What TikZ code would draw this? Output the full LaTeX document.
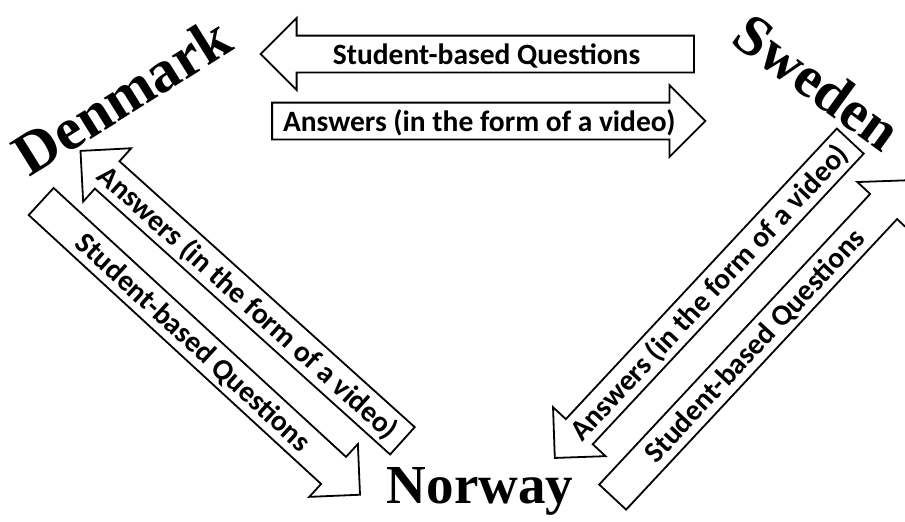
\documentclass[tikz,border=0pt]{standalone}
\usepackage{fontspec}
\newfontfamily\boxfont{Carlito}
\newfontfamily\landfont{Liberation Serif}
\usetikzlibrary{shapes.arrows}

\tikzset{
  flow/.style={single arrow, draw, line width=1.8pt, single arrow tip angle=90,
    single arrow head extend=17.5pt, inner xsep=10pt, inner ysep=0pt,
    text height=27.5pt, text depth=7.5pt,
    font=\boxfont\bfseries\fontsize{29.5}{30}\selectfont},
  backflow/.style={flow, shape border rotate=180},
  land/.style={anchor=base, font=\landfont\bfseries\fontsize{#1}{#1}\selectfont},
}
\newcommand{\boxtext}[2][c]{\makebox[393pt][#1]{#2}}

\begin{document}
\begin{tikzpicture}[x=1pt,y=-1pt]
\useasboundingbox (0,0) rectangle (905,522);
\clip (0,0) rectangle (905,522);

% the three countries
\node[land=60, rotate=32] (denmark) at (133,113) {Denmark};
\node[land=58, rotate=-36] (sweden) at (806,98) {Sweden};
\node[land=55] (norway) at (480,503) {Norway};

% Denmark <-> Sweden
\node[backflow] (swe2den) at (486.5,54) {\boxtext{Student-based Questions}};
\node[flow] (den2swe) at (479.5,121) {\boxtext[l]{Answers (in the form of a video)}};

% Denmark <-> Norway
\node[backflow, rotate=-42] (nor2den) at (248.3,302) {\boxtext[r]{Answers (in the form of a video)}};
\node[flow, rotate=-42.6] (den2nor) at (193.8,341.9) {\boxtext{Student-based Questions}};

% Sweden <-> Norway
\node[backflow, rotate=47] (swe2nor) at (708.8,292.8) {\boxtext[r]{Answers (in the form of a video)}};
\node[flow, rotate=47] (nor2swe) at (754.1,345.4) {\boxtext{Student-based Questions}};
\end{tikzpicture}
\end{document}
